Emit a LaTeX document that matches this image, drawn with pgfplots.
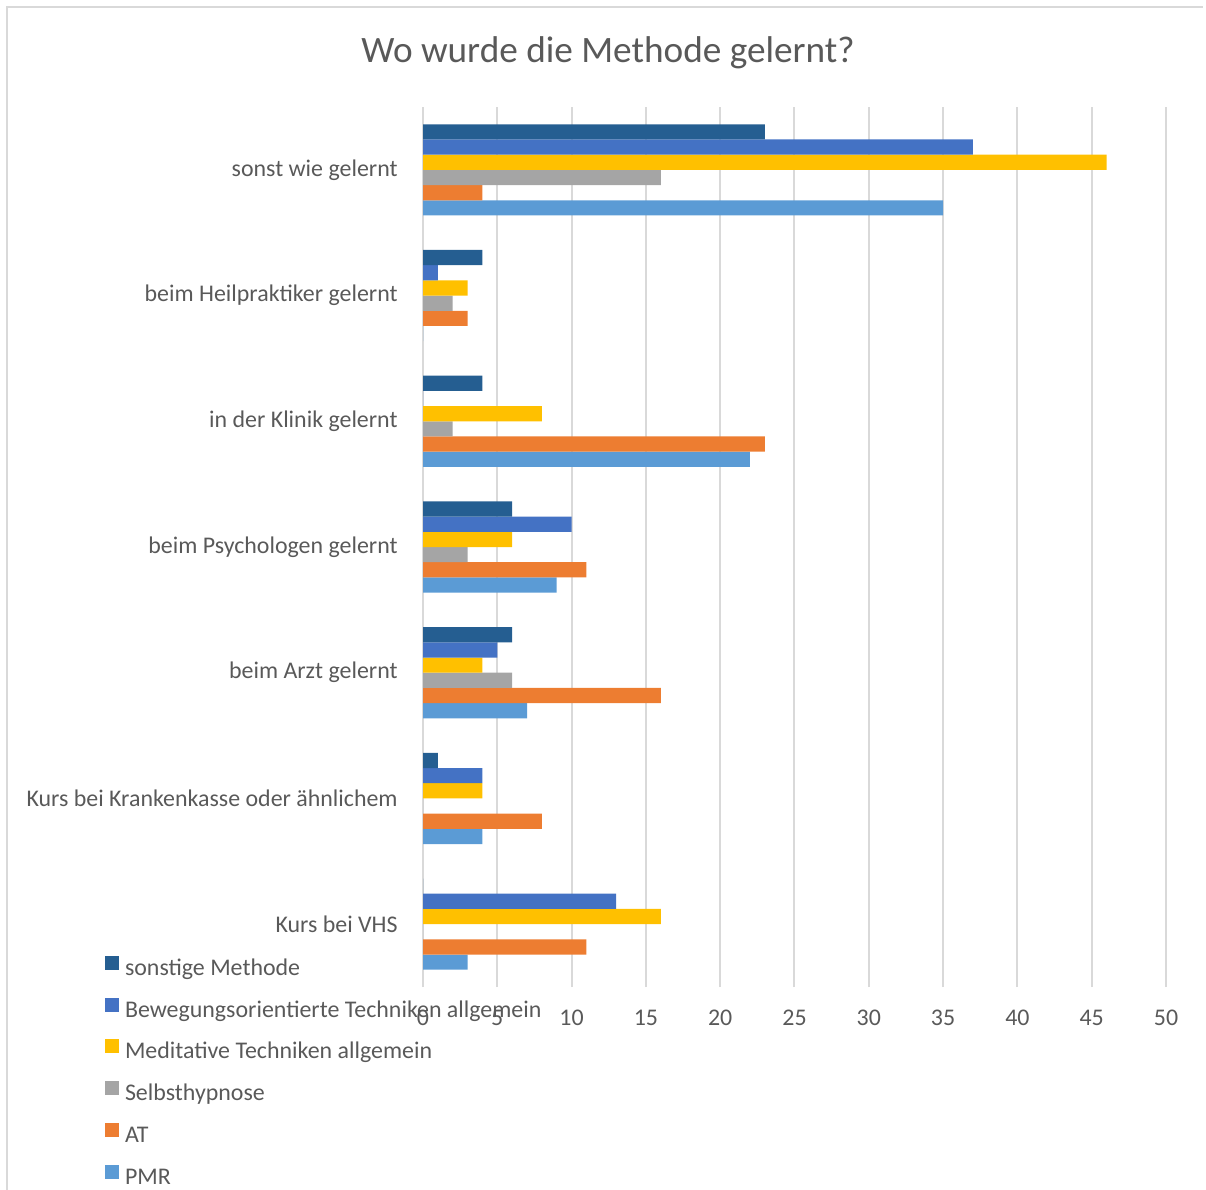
\documentclass[border=0pt]{standalone}
\usepackage{pgfplots}
\pgfplotsset{compat=1.18}
\usepackage{fontspec}
\setmainfont{Carlito}
\definecolor{cSon}{HTML}{255E91}
\definecolor{cBew}{HTML}{4472C4}
\definecolor{cMed}{HTML}{FFC000}
\definecolor{cSel}{HTML}{A5A5A5}
\definecolor{cAT}{HTML}{ED7D31}
\definecolor{cPMR}{HTML}{5B9BD5}
\definecolor{gridgray}{HTML}{D9D9D9}
\definecolor{textgray}{HTML}{595959}
\pgfplotsset{sq legend/.style={legend image code/.code={\fill[##1,draw=none] (0bp,0bp) rectangle (7bp,7bp);}}}
\begin{document}
\begin{tikzpicture}
\useasboundingbox (0bp,0bp) rectangle (603bp,595bp);
\draw[color=gridgray, line width=0.7bp] (3.5bp,0bp) -- (3.5bp,591.5bp) -- (601.5bp,591.5bp);
\node[font=\fontsize{18.7}{22}\selectfont, text=textgray] at (304bp,568.5bp) {Wo wurde die Methode gelernt?};
\begin{axis}[
  at={(211.5bp,101.5bp)}, anchor=south west,
  scale only axis, width=371.5bp, height=440bp,
  xbar=0pt, bar width=7.6bp,
  xmin=0, xmax=50, ymin=-0.5, ymax=6.5,
  xtick={0,5,...,50}, ytick={0,1,2,3,4,5,6},
  yticklabels={Kurs bei VHS, Kurs bei Krankenkasse oder ähnlichem, beim Arzt gelernt, beim Psychologen gelernt, in der Klinik gelernt, beim Heilpraktiker gelernt, sonst wie gelernt},
  axis line style={draw=none},
  major tick length=0pt,
  xmajorgrids, major grid style={color=gridgray, line width=1bp},
  tick label style={font=\fontsize{12}{14}\selectfont, text=textgray},
  /pgf/number format/assume math mode=true,
  yticklabel style={inner sep=0pt, anchor=east, xshift=-12.5bp},
  xticklabel style={inner sep=0pt, anchor=north, yshift=-11.5bp},
  legend cell align=left,
  reverse legend,
  legend style={at={(axis description cs:-0.428,0.0352)}, anchor=north west, draw=none, fill=none, inner sep=0pt, outer sep=0pt, row sep=8.1bp, column sep=3bp, font=\fontsize{12}{14}\selectfont, text=textgray, nodes={inner sep=0pt, text height=8.5bp, text depth=3bp}},
]
\addplot[fill=cPMR, draw=none, sq legend] coordinates {(3,0) (4,1) (7,2) (9,3) (22,4) (0,5) (35,6)};
\addplot[fill=cAT, draw=none, sq legend] coordinates {(11,0) (8,1) (16,2) (11,3) (23,4) (3,5) (4,6)};
\addplot[fill=cSel, draw=none, sq legend] coordinates {(0,0) (0,1) (6,2) (3,3) (2,4) (2,5) (16,6)};
\addplot[fill=cMed, draw=none, sq legend] coordinates {(16,0) (4,1) (4,2) (6,3) (8,4) (3,5) (46,6)};
\addplot[fill=cBew, draw=none, sq legend] coordinates {(13,0) (4,1) (5,2) (10,3) (0,4) (1,5) (37,6)};
\addplot[fill=cSon, draw=none, sq legend] coordinates {(0,0) (1,1) (6,2) (6,3) (4,4) (4,5) (23,6)};
\legend{PMR, AT, Selbsthypnose, Meditative Techniken allgemein, Bewegungsorientierte Techniken allgemein, sonstige Methode}
\end{axis}
\end{tikzpicture}
\end{document}
